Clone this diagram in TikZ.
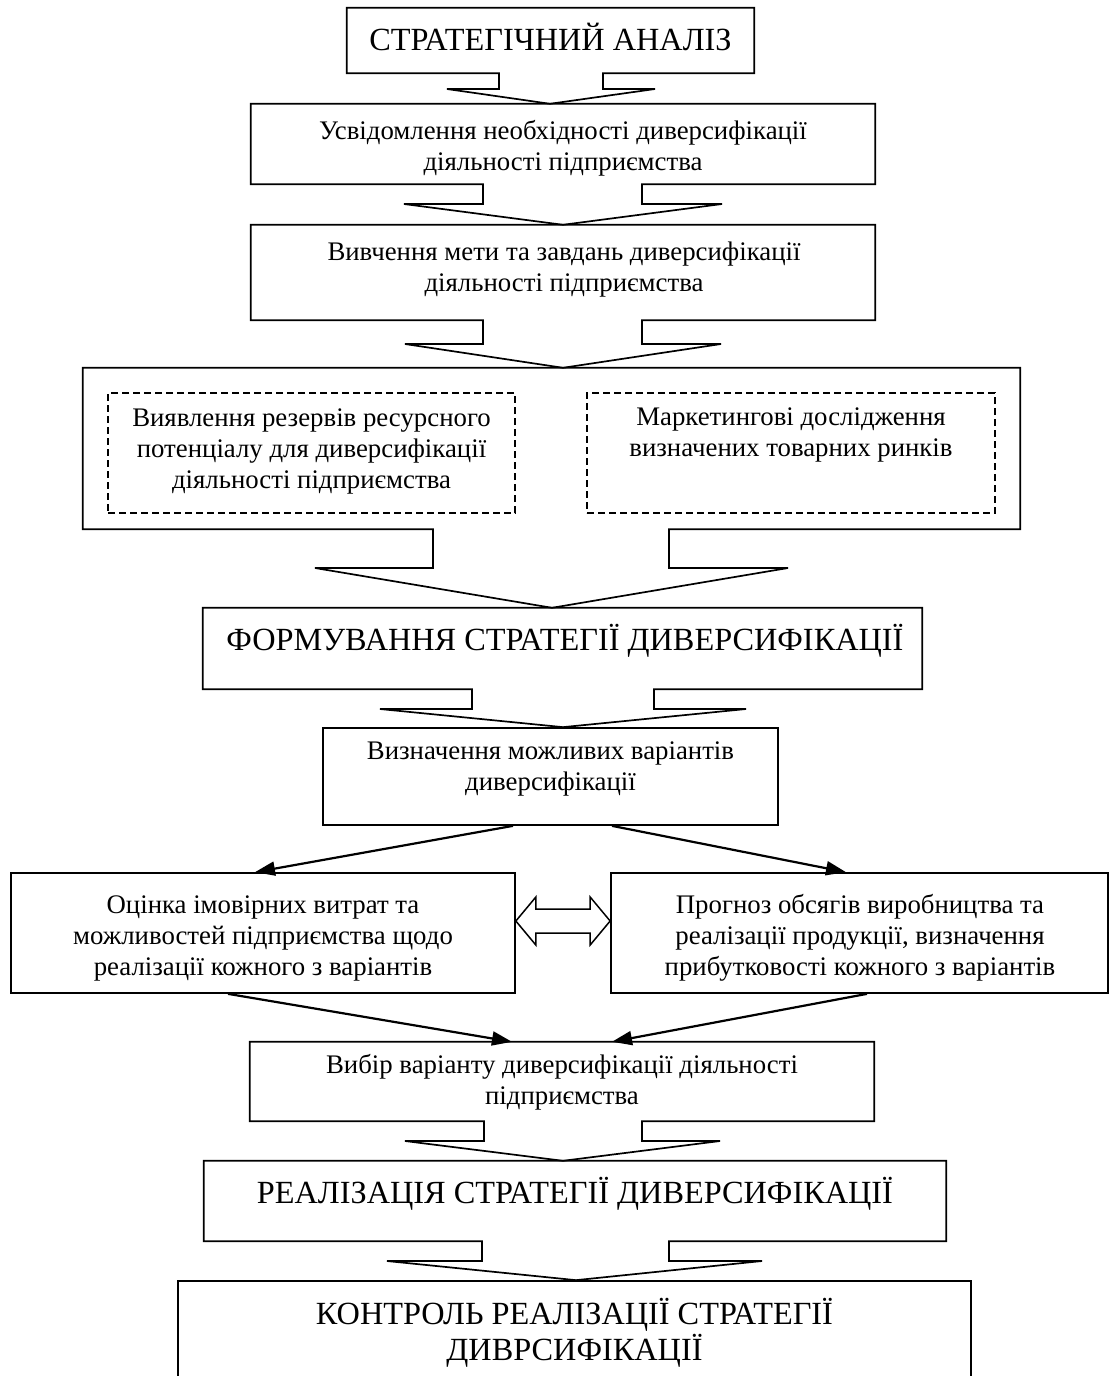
\documentclass[tikz,border=0pt]{standalone}
\usepackage{fontspec}
\setmainfont{Liberation Serif}
\usetikzlibrary{arrows.meta,calc}
\newcommand\boxdown[8]{%
  \draw[outl] (#1.south -| #2,0) -- (#1.south west) -- (#1.north west) -- (#1.north east) -- (#1.south east)
    -- (#1.south -| #3,0) -- (#3,#4) -- (#6,#4) -- (#8.north -| #7,0) -- (#5,#4) -- (#2,#4) -- cycle;}
\begin{document}
\begin{tikzpicture}[x=1pt,y=-1pt,
  outl/.style={line width=1.7pt},
  bx/.style={rectangle,inner sep=0pt,draw=none},
  plainbx/.style={rectangle,inner sep=0pt,draw,line width=1.7pt},
  dashbx/.style={rectangle,inner sep=0pt,draw,line width=1.4pt,dash pattern=on 7pt off 4pt},
  st/.style={font=\fontsize{26.8}{31}\selectfont,align=center,inner sep=0pt},
  bt/.style={font=\fontsize{32.3}{35.5}\selectfont,inner sep=0pt},
  conn/.style={line width=2.2pt,-{Triangle[length=20pt,width=14pt]}},
  dbl/.style={line width=1.5pt}]
\path[use as bounding box] (0,0) rectangle (1110,1376);
\clip (0,0) rectangle (1110,1376);

% boxes
\node[bx,minimum width=407pt,minimum height=65pt] (A) at (550.5,40.5) {};
\node[bx,minimum width=624pt,minimum height=80pt] (B) at (563,144) {};
\node[bx,minimum width=624pt,minimum height=95pt] (C) at (563,272.5) {};
\node[bx,minimum width=937pt,minimum height=161pt] (D) at (551.5,448.5) {};
\node[dashbx,minimum width=407pt,minimum height=120pt] (D1) at (311.5,453) {};
\node[dashbx,minimum width=408pt,minimum height=120pt] (D2) at (791,453) {};
\node[bx,minimum width=719pt,minimum height=81pt] (E) at (562.5,648.5) {};
\node[plainbx,minimum width=455pt,minimum height=97pt] (F) at (550.5,776.5) {};
\node[plainbx,minimum width=504pt,minimum height=120pt] (G) at (263,933) {};
\node[plainbx,minimum width=497pt,minimum height=120pt] (H) at (859.5,933) {};
\node[bx,minimum width=624pt,minimum height=79pt] (I) at (562,1081.5) {};
\node[bx,minimum width=742pt,minimum height=80pt] (J) at (575,1201) {};
\node[plainbx,minimum width=793pt,minimum height=139pt] (K) at (574.5,1350.5) {};

% box outlines with block arrows
\boxdown{A}{499}{603}{89}{447}{655}{550}{B}
\boxdown{B}{483}{642}{204}{404}{722}{563}{C}
\boxdown{C}{483}{642}{344}{405}{721}{563}{D}
\boxdown{D}{433}{669}{568}{315}{788}{552}{E}
\boxdown{E}{472}{654}{709}{380}{746}{563}{F}
\boxdown{I}{484}{642}{1141}{405}{720}{563}{J}
\boxdown{J}{482}{669}{1261}{387}{762}{576}{K}

% texts
\node[bt,anchor=base] (At) at (550.5,50) {СТРАТЕГІЧНИЙ АНАЛІЗ};
\node[st] (Bt) at (563,148) {Усвідомлення необхідності диверсифікації\\діяльності підприємства};
\node[st] (Ct) at (564,270) {Вивчення мети та завдань диверсифікації\\діяльності підприємства};
\node[st] (D1t) at (311.5,451) {Виявлення резервів ресурсного\\потенціалу для диверсифікації\\діяльності підприємства};
\node[st] (D2t) at (791,435) {Маркетингові дослідження\\визначених товарних ринків};
\node[bt,anchor=base] (Et) at (565,650) {ФОРМУВАННЯ СТРАТЕГІЇ ДИВЕРСИФІКАЦІЇ};
\node[st] (Ft) at (550.5,769) {Визначення можливих варіантів\\диверсифікації};
\node[st] (Gt) at (263,938) {Оцінка імовірних витрат та\\можливостей підприємства щодо\\реалізації кожного з варіантів};
\node[st] (Ht) at (860,938) {Прогноз обсягів виробництва та\\реалізації продукції, визначення\\прибутковості кожного з варіантів};
\node[st] (It) at (562,1082) {Вибір варіанту диверсифікації діяльності\\підприємства};
\node[bt,anchor=base] (Jt) at (575,1203) {РЕАЛІЗАЦІЯ СТРАТЕГІЇ ДИВЕРСИФІКАЦІЇ};
\node[bt,align=center] (Kt) at (574.5,1333) {КОНТРОЛЬ РЕАЛІЗАЦІЇ СТРАТЕГІЇ\\ДИВРСИФІКАЦІЇ};

% connectors
\draw[conn] (F.south -| 513,0) -- (G.north -| 255,0);
\draw[conn] (F.south -| 612,0) -- (H.north -| 846,0);
\draw[conn] (G.south -| 228,0) -- (I.north -| 512,0);
\draw[conn] (H.south -| 867,0) -- (I.north -| 612,0);

% double arrow
\coordinate (dl) at (G.east |- 0,921);
\coordinate (dr) at (H.west |- 0,921);
\draw[dbl] (dl) -- ($(dl)+(20,-24)$) -- ($(dl)+(20,-12)$) -- ($(dr)+(-20,-12)$) -- ($(dr)+(-20,-24)$) -- (dr)
  -- ($(dr)+(-20,24)$) -- ($(dr)+(-20,12)$) -- ($(dl)+(20,12)$) -- ($(dl)+(20,24)$) -- cycle;
\end{tikzpicture}
\end{document}
